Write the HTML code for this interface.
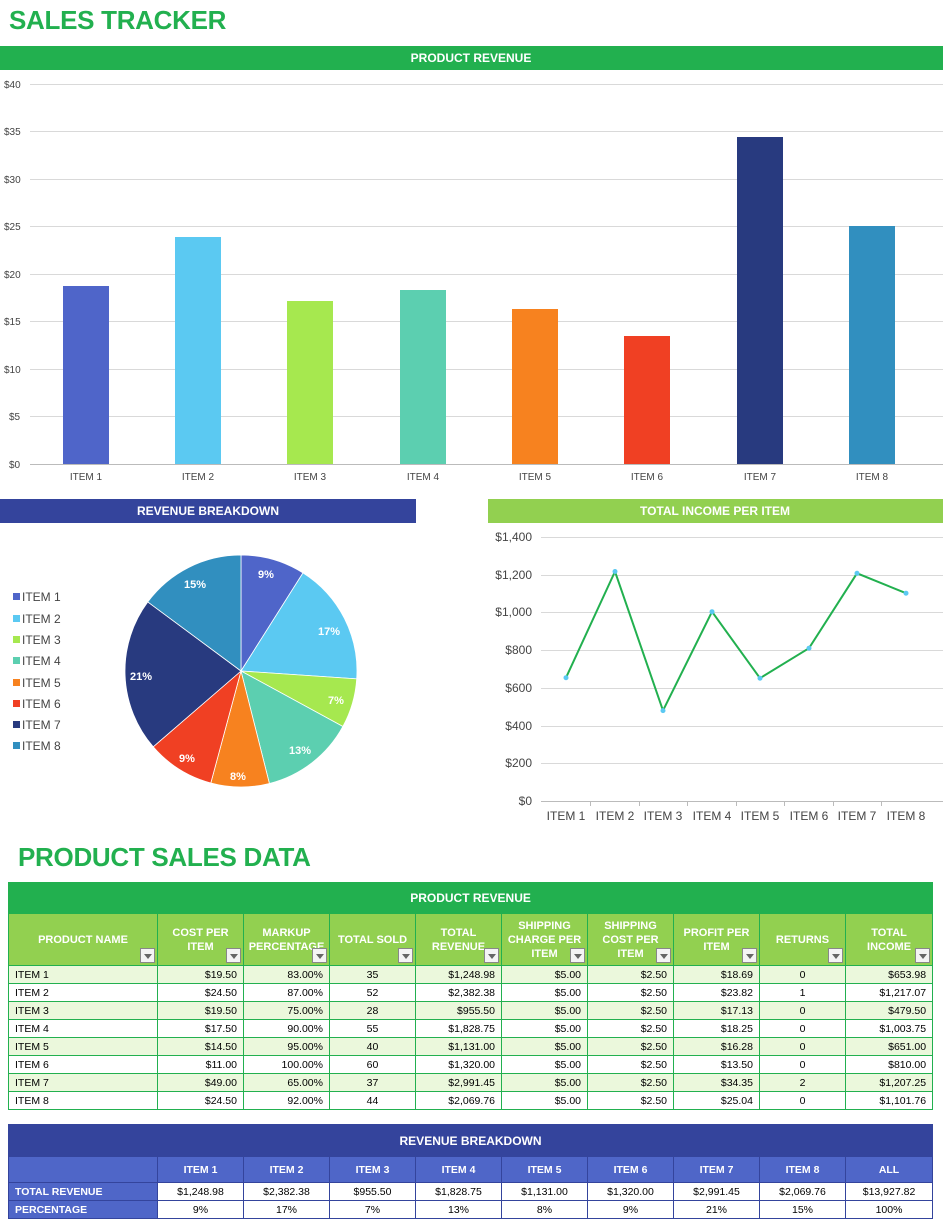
<!DOCTYPE html>
<html><head><meta charset="utf-8"><style>
*{margin:0;padding:0;box-sizing:border-box}
body{width:943px;height:1224px;background:#fff;font-family:"Liberation Sans",Arial,sans-serif;position:relative;overflow:hidden}
.abs{position:absolute}
.t{font-weight:bold;color:#22b04f;font-size:26px;letter-spacing:-0.3px}
table{border-collapse:collapse;table-layout:fixed;position:absolute;font-size:10.5px}
td{overflow:hidden;white-space:nowrap}
#t1{left:8px;top:882px;width:924px}
#t1 td{border:1px solid #22b04f;height:18px;padding:0 6px}
#t1 .hd td{background:#22b04f;color:#fff;font-weight:bold;text-align:center;height:31px;font-size:12px}
#t1 .ch td{background:#92d050;color:#fff;font-weight:bold;text-align:center;height:52px;font-size:11px;white-space:normal;line-height:14px;position:relative;padding:0 4px}
#t1 .r td{text-align:right}
#t1 .r td:first-child{text-align:left}
#t1 .r td:nth-child(4),#t1 .r td:nth-child(9){text-align:center}
#t1 .a td{background:#ebf8dc}
.dd{position:absolute;right:2px;bottom:2px;width:15px;height:15px;background:#f4f4f4;border:1px solid #888}
.dd:after{content:"";position:absolute;left:3px;top:5px;border-left:4px solid transparent;border-right:4px solid transparent;border-top:5px solid #666}
#t2{left:8px;top:1124px;width:924px}
#t2 td{border:1px solid #34449c;height:18px;text-align:center}
#t2 .hd td{background:#34449c;color:#fff;font-weight:bold;height:32px;font-size:12px}
#t2 .ch td{background:#4f66c8;color:#fff;font-weight:bold;height:26px}
#t2 .r td:first-child{background:#4f66c8;color:#fff;font-weight:bold;text-align:left;padding-left:6px}
</style></head><body>
<div class="abs t" style="left:9px;top:5px">SALES TRACKER</div>
<svg class="abs" style="left:0;top:0" width="943" height="880" font-family="Liberation Sans, Arial, sans-serif">
<rect x="0" y="46" width="943" height="24" fill="#22b04f"/>
<text x="471" y="62" fill="#fff" font-size="12" font-weight="bold" text-anchor="middle">PRODUCT REVENUE</text>
<g stroke="#d9d9d9" stroke-width="1">
<line x1="30" y1="84.5" x2="943" y2="84.5"/><line x1="30" y1="131.5" x2="943" y2="131.5"/><line x1="30" y1="179.5" x2="943" y2="179.5"/><line x1="30" y1="226.5" x2="943" y2="226.5"/><line x1="30" y1="274.5" x2="943" y2="274.5"/><line x1="30" y1="321.5" x2="943" y2="321.5"/><line x1="30" y1="369.5" x2="943" y2="369.5"/><line x1="30" y1="416.5" x2="943" y2="416.5"/><line x1="30" y1="464.5" x2="943" y2="464.5" stroke="#bbb"/>
</g>
<g font-size="10" fill="#444">
<text x="4" y="88">$40</text><text x="4" y="135">$35</text><text x="4" y="183">$30</text><text x="4" y="230">$25</text><text x="4" y="278">$20</text><text x="4" y="325">$15</text><text x="4" y="373">$10</text><text x="9" y="420">$5</text><text x="9" y="468">$0</text>
</g>
<rect x="63" y="286" width="46" height="178" fill="#4f65c9"/>
<rect x="175" y="237" width="46" height="227" fill="#5bc9f2"/>
<rect x="287" y="301" width="46" height="163" fill="#a6e84f"/>
<rect x="400" y="290" width="46" height="174" fill="#5ccfb0"/>
<rect x="512" y="309" width="46" height="155" fill="#f7821f"/>
<rect x="624" y="336" width="46" height="128" fill="#f04023"/>
<rect x="737" y="137" width="46" height="327" fill="#283a7f"/>
<rect x="849" y="226" width="46" height="238" fill="#318fbf"/>
<g font-size="10" fill="#444" text-anchor="middle">
<text x="86" y="480">ITEM 1</text><text x="198" y="480">ITEM 2</text><text x="310" y="480">ITEM 3</text><text x="423" y="480">ITEM 4</text><text x="535" y="480">ITEM 5</text><text x="647" y="480">ITEM 6</text><text x="760" y="480">ITEM 7</text><text x="872" y="480">ITEM 8</text>
</g>
<rect x="0" y="499" width="416" height="24" fill="#34449c"/>
<text x="208" y="515" fill="#fff" font-size="12" font-weight="bold" text-anchor="middle">REVENUE BREAKDOWN</text>
<rect x="488" y="499" width="455" height="24" fill="#92d050"/>
<text x="715" y="515" fill="#fff" font-size="12" font-weight="bold" text-anchor="middle">TOTAL INCOME PER ITEM</text>
<g stroke="#fff" stroke-width="0.8">
<path d="M241 671 L241 555 A116 116 0 0 1 303 572.9 Z" fill="#4f65c9"/>
<path d="M241 671 L303 572.9 A116 116 0 0 1 356.7 678.9 Z" fill="#5bc9f2"/>
<path d="M241 671 L356.7 678.9 A116 116 0 0 1 342.9 726.5 Z" fill="#a6e84f"/>
<path d="M241 671 L342.9 726.5 A116 116 0 0 1 269.4 783.5 Z" fill="#5ccfb0"/>
<path d="M241 671 L269.4 783.5 A116 116 0 0 1 210.8 783 Z" fill="#f7821f"/>
<path d="M241 671 L210.8 783 A116 116 0 0 1 153.2 746.8 Z" fill="#f04023"/>
<path d="M241 671 L153.2 746.8 A116 116 0 0 1 147.8 601.9 Z" fill="#283a7f"/>
<path d="M241 671 L147.8 601.9 A116 116 0 0 1 241 555 Z" fill="#318fbf"/>
</g>
<g font-size="11" fill="#fff" font-weight="bold" text-anchor="middle">
<text x="266" y="578">9%</text><text x="329" y="635">17%</text><text x="336" y="704">7%</text><text x="300" y="754">13%</text><text x="238" y="780">8%</text><text x="187" y="762">9%</text><text x="141" y="680">21%</text><text x="195" y="588">15%</text>
</g>
<g font-size="12" fill="#444">
<rect x="13" y="593" width="7" height="7" fill="#4f65c9"/><text x="22" y="601">ITEM 1</text>
<rect x="13" y="615" width="7" height="7" fill="#5bc9f2"/><text x="22" y="623">ITEM 2</text>
<rect x="13" y="636" width="7" height="7" fill="#a6e84f"/><text x="22" y="644">ITEM 3</text>
<rect x="13" y="657" width="7" height="7" fill="#5ccfb0"/><text x="22" y="665">ITEM 4</text>
<rect x="13" y="679" width="7" height="7" fill="#f7821f"/><text x="22" y="687">ITEM 5</text>
<rect x="13" y="700" width="7" height="7" fill="#f04023"/><text x="22" y="708">ITEM 6</text>
<rect x="13" y="721" width="7" height="7" fill="#283a7f"/><text x="22" y="729">ITEM 7</text>
<rect x="13" y="742" width="7" height="7" fill="#318fbf"/><text x="22" y="750">ITEM 8</text>
</g>
<g stroke="#d9d9d9">
<line x1="541" y1="537.5" x2="943" y2="537.5"/><line x1="541" y1="575.5" x2="943" y2="575.5"/><line x1="541" y1="612.5" x2="943" y2="612.5"/><line x1="541" y1="650.5" x2="943" y2="650.5"/><line x1="541" y1="688.5" x2="943" y2="688.5"/><line x1="541" y1="726.5" x2="943" y2="726.5"/><line x1="541" y1="763.5" x2="943" y2="763.5"/><line x1="541" y1="801.5" x2="943" y2="801.5" stroke="#bbb"/>
<line x1="590.5" y1="801" x2="590.5" y2="806" stroke="#bbb"/><line x1="639.5" y1="801" x2="639.5" y2="806" stroke="#bbb"/><line x1="687.5" y1="801" x2="687.5" y2="806" stroke="#bbb"/><line x1="736.5" y1="801" x2="736.5" y2="806" stroke="#bbb"/><line x1="784.5" y1="801" x2="784.5" y2="806" stroke="#bbb"/><line x1="833.5" y1="801" x2="833.5" y2="806" stroke="#bbb"/><line x1="881.5" y1="801" x2="881.5" y2="806" stroke="#bbb"/>
</g>
<g font-size="12" fill="#444" text-anchor="end">
<text x="532" y="541">$1,400</text><text x="532" y="579">$1,200</text><text x="532" y="616">$1,000</text><text x="532" y="654">$800</text><text x="532" y="692">$600</text><text x="532" y="730">$400</text><text x="532" y="767">$200</text><text x="532" y="805">$0</text>
</g>
<g font-size="12" fill="#444" text-anchor="middle">
<text x="566" y="820">ITEM 1</text><text x="615" y="820">ITEM 2</text><text x="663" y="820">ITEM 3</text><text x="712" y="820">ITEM 4</text><text x="760" y="820">ITEM 5</text><text x="809" y="820">ITEM 6</text><text x="857" y="820">ITEM 7</text><text x="906" y="820">ITEM 8</text>
</g>
<polyline points="566,677.7 615,571.5 663,710.6 712,611.7 760,678.2 809,648.2 857,573.3 906,593.2" fill="none" stroke="#22b04f" stroke-width="2"/>
<g fill="#5bc9f2"><circle cx="566" cy="677.7" r="2.5"/><circle cx="615" cy="571.5" r="2.5"/><circle cx="663" cy="710.6" r="2.5"/><circle cx="712" cy="611.7" r="2.5"/><circle cx="760" cy="678.2" r="2.5"/><circle cx="809" cy="648.2" r="2.5"/><circle cx="857" cy="573.3" r="2.5"/><circle cx="906" cy="593.2" r="2.5"/></g>
</svg>
<div class="abs t" style="left:18px;top:842px">PRODUCT SALES DATA</div>
<table id="t1">
<colgroup><col style="width:149px"><col style="width:86px"><col style="width:86px"><col style="width:86px"><col style="width:86px"><col style="width:86px"><col style="width:86px"><col style="width:86px"><col style="width:86px"><col style="width:87px"></colgroup>
<tr class="hd"><td colspan="10">PRODUCT REVENUE</td></tr>
<tr class="ch"><td>PRODUCT NAME<span class="dd"></span></td><td>COST PER ITEM<span class="dd"></span></td><td>MARKUP PERCENTAGE<span class="dd"></span></td><td>TOTAL SOLD<span class="dd"></span></td><td>TOTAL REVENUE<span class="dd"></span></td><td>SHIPPING CHARGE PER ITEM<span class="dd"></span></td><td>SHIPPING COST PER ITEM<span class="dd"></span></td><td>PROFIT PER ITEM<span class="dd"></span></td><td>RETURNS<span class="dd"></span></td><td>TOTAL INCOME<span class="dd"></span></td></tr>
<tr class="r a"><td>ITEM 1</td><td>$19.50</td><td>83.00%</td><td>35</td><td>$1,248.98</td><td>$5.00</td><td>$2.50</td><td>$18.69</td><td>0</td><td>$653.98</td></tr>
<tr class="r"><td>ITEM 2</td><td>$24.50</td><td>87.00%</td><td>52</td><td>$2,382.38</td><td>$5.00</td><td>$2.50</td><td>$23.82</td><td>1</td><td>$1,217.07</td></tr>
<tr class="r a"><td>ITEM 3</td><td>$19.50</td><td>75.00%</td><td>28</td><td>$955.50</td><td>$5.00</td><td>$2.50</td><td>$17.13</td><td>0</td><td>$479.50</td></tr>
<tr class="r"><td>ITEM 4</td><td>$17.50</td><td>90.00%</td><td>55</td><td>$1,828.75</td><td>$5.00</td><td>$2.50</td><td>$18.25</td><td>0</td><td>$1,003.75</td></tr>
<tr class="r a"><td>ITEM 5</td><td>$14.50</td><td>95.00%</td><td>40</td><td>$1,131.00</td><td>$5.00</td><td>$2.50</td><td>$16.28</td><td>0</td><td>$651.00</td></tr>
<tr class="r"><td>ITEM 6</td><td>$11.00</td><td>100.00%</td><td>60</td><td>$1,320.00</td><td>$5.00</td><td>$2.50</td><td>$13.50</td><td>0</td><td>$810.00</td></tr>
<tr class="r a"><td>ITEM 7</td><td>$49.00</td><td>65.00%</td><td>37</td><td>$2,991.45</td><td>$5.00</td><td>$2.50</td><td>$34.35</td><td>2</td><td>$1,207.25</td></tr>
<tr class="r"><td>ITEM 8</td><td>$24.50</td><td>92.00%</td><td>44</td><td>$2,069.76</td><td>$5.00</td><td>$2.50</td><td>$25.04</td><td>0</td><td>$1,101.76</td></tr>
</table>
<table id="t2">
<colgroup><col style="width:149px"><col style="width:86px"><col style="width:86px"><col style="width:86px"><col style="width:86px"><col style="width:86px"><col style="width:86px"><col style="width:86px"><col style="width:86px"><col style="width:87px"></colgroup>
<tr class="hd"><td colspan="10">REVENUE BREAKDOWN</td></tr>
<tr class="ch"><td></td><td>ITEM 1</td><td>ITEM 2</td><td>ITEM 3</td><td>ITEM 4</td><td>ITEM 5</td><td>ITEM 6</td><td>ITEM 7</td><td>ITEM 8</td><td>ALL</td></tr>
<tr class="r"><td>TOTAL REVENUE</td><td>$1,248.98</td><td>$2,382.38</td><td>$955.50</td><td>$1,828.75</td><td>$1,131.00</td><td>$1,320.00</td><td>$2,991.45</td><td>$2,069.76</td><td>$13,927.82</td></tr>
<tr class="r"><td>PERCENTAGE</td><td>9%</td><td>17%</td><td>7%</td><td>13%</td><td>8%</td><td>9%</td><td>21%</td><td>15%</td><td>100%</td></tr>
</table>
</body></html>
